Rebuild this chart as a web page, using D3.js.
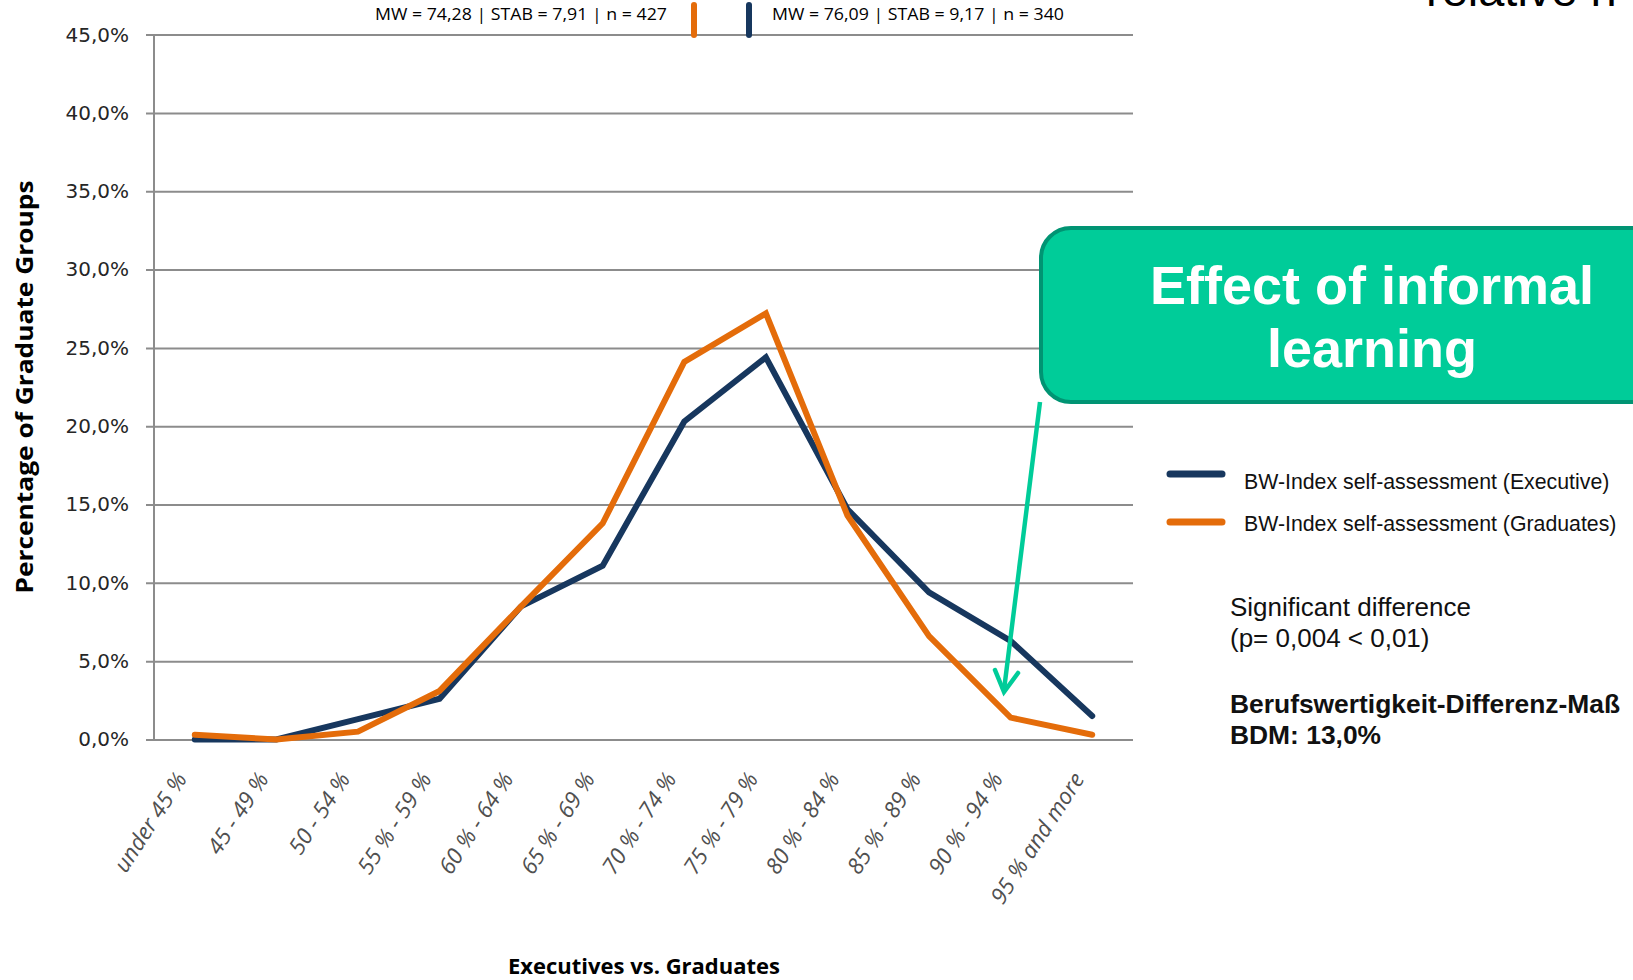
<!DOCTYPE html>
<html>
<head>
<meta charset="utf-8">
<script src="https://cdn.jsdelivr.net/npm/d3@7"></script>
<style>
  html, body { margin: 0; padding: 0; background: #ffffff; overflow: hidden; }
  svg { display: block; }
</style>
</head>
<body>
<svg id="chart" width="1633" height="980"></svg>
<script>
// ---------- DATA ----------
const categories = ["under 45 %", "45 - 49 %", "50 - 54 %", "55 % - 59 %", "60 % - 64 %", "65 % - 69 %",
                    "70 % - 74 %", "75 % - 79 %", "80 % - 84 %", "85 % - 89 %", "90 % - 94 %", "95 % and more"];
const executives = [0.0, 0.0, 1.3, 2.6, 8.5, 11.1, 20.3, 24.4, 14.7, 9.4, 6.3, 1.5];
const graduates  = [0.3, 0.0, 0.5, 3.1, 8.5, 13.8, 24.1, 27.2, 14.3, 6.6, 1.4, 0.3];
const yTicks = [0, 5, 10, 15, 20, 25, 30, 35, 40, 45];
const yTickLabels = ["0,0%", "5,0%", "10,0%", "15,0%", "20,0%", "25,0%", "30,0%", "35,0%", "40,0%", "45,0%"];
const seriesNames = ["BW-Index self-assessment (Executive)", "BW-Index self-assessment (Graduates)"];
const statsExec = "MW = 76,09 | STAB = 9,17 | n = 340";
const statsGrad = "MW = 74,28 | STAB = 7,91 | n = 427";

// ---------- LAYOUT ----------
const NAVY = "#17375E", ORANGE = "#E46C0A", GREEN = "#00CC99", GRID = "#8c8c8c";
const svg = d3.select("#chart");
const plotLeft = 154, plotRight = 1133, plotTop = 34.6, plotBottom = 739.5;

const x = d3.scaleBand().domain(categories).range([plotLeft, plotRight]).padding(0);
const y = d3.scaleLinear().domain([0, 45]).range([plotBottom, plotTop]);
const cx = c => x(c) + x.bandwidth() / 2;

// y axis with gridlines
const yAxis = d3.axisLeft(y)
  .tickValues(yTicks)
  .tickFormat((d, i) => yTickLabels[i])
  .tickSize(-(plotRight - 146))
  .tickPadding(17);
const gy = svg.append("g").attr("transform", "translate(146,0)").call(yAxis);
gy.select(".domain").remove();
gy.selectAll(".tick line").attr("stroke", GRID).attr("stroke-width", 2);
gy.selectAll(".tick text")
  .attr("font-family", "DejaVu Sans")
  .attr("font-size", 20)
  .attr("fill", "#262626");

// vertical axis line
svg.append("line")
  .attr("x1", plotLeft).attr("x2", plotLeft)
  .attr("y1", y(45)).attr("y2", y(0))
  .attr("stroke", GRID).attr("stroke-width", 2);

// x category labels
svg.append("g").selectAll("text")
  .data(categories)
  .join("text")
  .attr("transform", d => `translate(${cx(d) - 7},779) rotate(-57)`)
  .attr("text-anchor", "end")
  .attr("font-family", "Open Sans")
  .attr("font-style", "italic")
  .attr("font-size", 22.5)
  .attr("fill", "#505050")
  .text(d => d);

// lines
const line = d3.line()
  .x((d, i) => cx(categories[i]))
  .y(d => y(d));

[[executives, NAVY], [graduates, ORANGE]].forEach(([vals, col]) => {
  svg.append("path")
    .datum(vals)
    .attr("d", line)
    .attr("fill", "none")
    .attr("stroke", col)
    .attr("stroke-width", 6)
    .attr("stroke-linecap", "round")
    .attr("stroke-linejoin", "miter");
});

// axis titles
svg.append("text")
  .attr("transform", "translate(33,387) rotate(-90)")
  .attr("text-anchor", "middle")
  .attr("font-family", "Open Sans")
  .attr("font-weight", "bold")
  .attr("font-size", 24)
  .attr("textLength", 413)
  .attr("lengthAdjust", "spacingAndGlyphs")
  .attr("fill", "#000")
  .text("Percentage of Graduate Groups");

svg.append("text")
  .attr("x", 644).attr("y", 974)
  .attr("text-anchor", "middle")
  .attr("font-family", "Open Sans")
  .attr("font-weight", "bold")
  .attr("font-size", 21)
  .attr("textLength", 272)
  .attr("lengthAdjust", "spacingAndGlyphs")
  .attr("fill", "#000")
  .text("Executives vs. Graduates");

// top stats
svg.append("text")
  .attr("x", 375).attr("y", 19.5)
  .attr("font-family", "Open Sans").attr("font-size", 16.5)
  .attr("textLength", 292).attr("lengthAdjust", "spacingAndGlyphs")
  .attr("fill", "#000").text(statsGrad);
svg.append("text")
  .attr("x", 772).attr("y", 19.5)
  .attr("font-family", "Open Sans").attr("font-size", 16.5)
  .attr("textLength", 292).attr("lengthAdjust", "spacingAndGlyphs")
  .attr("fill", "#000").text(statsExec);
[[694, ORANGE], [749, NAVY]].forEach(([px, col]) => {
  svg.append("line")
    .attr("x1", px).attr("x2", px).attr("y1", 5).attr("y2", 35)
    .attr("stroke", col).attr("stroke-width", 6).attr("stroke-linecap", "round");
});

// cut-off title top right (cropped in the reference too)
svg.append("text")
  .attr("x", 1426).attr("y", 6)
  .attr("font-family", "Liberation Sans").attr("font-size", 47)
  .attr("fill", "#000").text("relative h");

// green callout box
svg.append("rect")
  .attr("x", 1041).attr("y", 228)
  .attr("width", 700).attr("height", 174)
  .attr("rx", 30).attr("ry", 30)
  .attr("fill", GREEN).attr("stroke", "#009473").attr("stroke-width", 4);
const box = svg.append("text")
  .attr("text-anchor", "middle")
  .attr("font-family", "Liberation Sans").attr("font-weight", "bold")
  .attr("font-size", 54).attr("fill", "#fff");
box.append("tspan").attr("x", 1372).attr("y", 304).text("Effect of informal");
box.append("tspan").attr("x", 1372).attr("y", 367).text("learning");

// arrow
svg.append("line")
  .attr("x1", 1040).attr("y1", 402).attr("x2", 1004).attr("y2", 690)
  .attr("stroke", GREEN).attr("stroke-width", 4.5);
svg.append("path")
  .attr("d", "M995,670 L1004,692 L1018,673")
  .attr("fill", "none").attr("stroke", GREEN).attr("stroke-width", 4.5)
  .attr("stroke-linecap", "round").attr("stroke-linejoin", "miter");

// legend
const legendItems = [[seriesNames[0], NAVY, 474, 489], [seriesNames[1], ORANGE, 522, 531]];
legendItems.forEach(([name, col, ly, ty]) => {
  svg.append("line")
    .attr("x1", 1170).attr("x2", 1222).attr("y1", ly).attr("y2", ly)
    .attr("stroke", col).attr("stroke-width", 7).attr("stroke-linecap", "round");
  svg.append("text")
    .attr("x", 1244).attr("y", ty)
    .attr("font-family", "Liberation Sans").attr("font-size", 21.3)
    .attr("fill", "#111").text(name);
});

// significance notes
const notes = [
  ["Significant difference", 616, "normal", 26],
  ["(p= 0,004 < 0,01)", 647, "normal", 26],
  ["Berufswertigkeit-Differenz-Maß", 713, "bold", 26.4],
  ["BDM: 13,0%", 744, "bold", 26.4]
];
notes.forEach(([t, ty, w, fs]) => {
  svg.append("text")
    .attr("x", 1230).attr("y", ty)
    .attr("font-family", "Liberation Sans").attr("font-size", fs)
    .attr("font-weight", w).attr("fill", "#111").text(t);
});
</script>
</body>
</html>
